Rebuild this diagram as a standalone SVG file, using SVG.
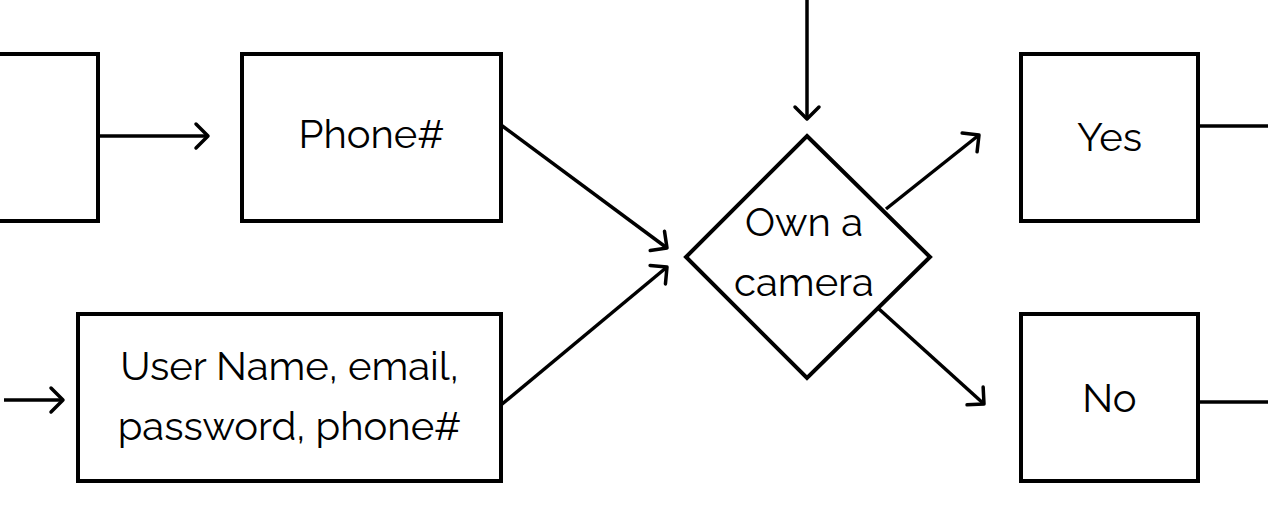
<svg xmlns="http://www.w3.org/2000/svg" width="1268" height="528" viewBox="0 0 1268 528">
<style>
.box{fill:#fff;stroke:#000;stroke-width:4}
.ln{fill:none;stroke:#000;stroke-width:3.5}
.t{font-family:"Raleway","Lato","Open Sans",sans-serif;font-size:40px;fill:#000;text-anchor:middle;font-weight:400}
</style>
<defs>
<marker id="ah" markerUnits="userSpaceOnUse" viewBox="-16 -16 20 32" refX="0" refY="0" markerWidth="20" markerHeight="32" orient="auto">
<path d="M-12,-12 L0,0 L-12,12" fill="none" stroke="#000" stroke-width="3.5" stroke-linecap="round" stroke-linejoin="round"/>
</marker>
</defs>
<rect width="1268" height="528" fill="#fff"/>
<g id="connectors">
<line class="ln" x1="98" y1="136" x2="208" y2="136" marker-end="url(#ah)"/>
<line class="ln" x1="4" y1="400" x2="63" y2="400" marker-end="url(#ah)"/>
<line class="ln" x1="501" y1="125" x2="667" y2="248" marker-end="url(#ah)"/>
<line class="ln" x1="501" y1="405" x2="667" y2="267" marker-end="url(#ah)"/>
<line class="ln" x1="807" y1="0" x2="807" y2="119" marker-end="url(#ah)"/>
<line class="ln" x1="886" y1="209" x2="979" y2="135" marker-end="url(#ah)"/>
<line class="ln" x1="879" y1="309" x2="984" y2="404" marker-end="url(#ah)"/>
<line class="ln" x1="1198" y1="126" x2="1268" y2="126"/>
<line class="ln" x1="1198" y1="402" x2="1268" y2="402"/>
</g>
<g id="node-left">
<rect class="box" x="-10" y="54" width="108" height="167"/>
</g>
<g id="node-phone">
<rect class="box" x="242" y="54" width="259" height="167"/>
<text class="t" x="371.5" y="148">Phone#</text>
</g>
<g id="node-user">
<rect class="box" x="78" y="314" width="423" height="167"/>
<text class="t" x="289.5" y="380">User Name, email,</text>
<text class="t" x="289.5" y="440">password, phone#</text>
</g>
<g id="node-decision">
<polygon class="box" points="807,136 930,257 807,378 686,257"/>
<text class="t" x="804" y="236">Own a</text>
<text class="t" x="804" y="296">camera</text>
</g>
<g id="node-yes">
<rect class="box" x="1021" y="54" width="177" height="167"/>
<text class="t" x="1109.5" y="151">Yes</text>
</g>
<g id="node-no">
<rect class="box" x="1021" y="314" width="177" height="167"/>
<text class="t" x="1109.5" y="412">No</text>
</g>
</svg>
